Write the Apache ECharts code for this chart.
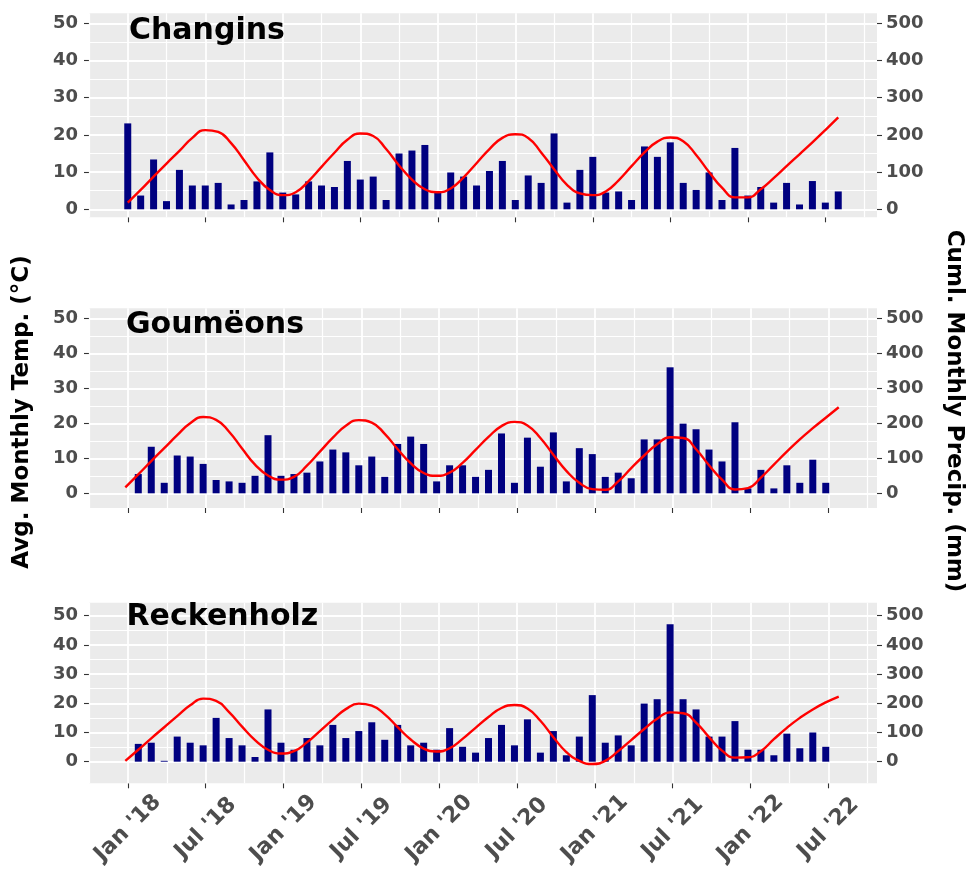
<!DOCTYPE html>
<html><head><meta charset="utf-8">
<script src="https://cdn.jsdelivr.net/npm/echarts@6/dist/echarts.min.js"></script>
<style>html,body{margin:0;padding:0;background:#fff}#c{width:966px;height:883px}</style>
</head><body><div id="c"></div>
<script>
// ---- data ----
const tickLabels = ["Jan '18","Jul '18","Jan '19","Jul '19","Jan '20","Jul '20","Jan '21","Jul '21","Jan '22","Jul '22"];
const tickMonths = [0,6,12,18,24,30,36,42,48,54];
const minorMonths = [-3,3,9,15,21,27,33,39,45,51,57];
const tempTicks = [0,10,20,30,40,50];
const tempMinorTicks = [5,15,25,35,45];
const precipTicks = [0,100,200,300,400,500];

const stationNames = ['Changins','Goumëons','Reckenholz'];

const changinsPrecip = [231,37,134,22,106,64,64,71,13,25,75,153,45,40,75,64,60,130,80,88,25,150,158,173,45,99,88,64,103,130,25,91,71,204,18,106,141,45,48,25,169,141,180,71,52,99,25,165,37,60,18,71,13,76,18,48];
const changinsTemp = [1.8,5.2,8.8,12.3,15.7,19.2,21.3,20.8,17.8,13.2,8.5,5.2,3.8,4.6,7.6,11.4,15.2,18.7,20.4,19.7,16.2,11.8,8,5.4,4.6,5.6,8.6,12.4,16.2,19.2,20.2,19.2,15.3,10.8,6.6,4.3,3.8,4.8,7.8,11.6,15.3,18.2,19.3,18.3,14.6,10,5.8,3.2,3.2,5.4,8.4,11.6,14.8,18,21.3,24.7];

const goumeonsPrecip = [55,133,30,108,105,84,38,34,30,50,166,50,55,59,91,125,117,80,105,47,141,162,141,34,80,80,47,67,171,30,159,76,174,34,129,112,47,59,43,154,154,360,199,183,125,91,203,14,67,14,80,30,96,30];
const goumeonsTemp = [1.7,5.4,9.2,12.9,16.6,20,21.8,21,17.6,12.8,8.2,5.1,3.9,4.7,7.9,11.9,15.9,19.3,20.9,20.2,17,12.6,8.6,5.8,5,5.9,8.7,12.4,16.1,19.2,20.4,19.4,15.8,11,6.4,3,1.2,1,3.4,7.2,10.8,14,16,15.8,12.6,8,3.9,1.1,1.5,4.5,8.2,11.9,15.4,18.6,21.6,24.6];

const reckenholzPrecip = [61,65,3,86,65,56,150,81,56,16,179,65,41,81,56,126,81,105,135,75,126,56,65,41,115,51,31,81,126,56,145,31,105,22,86,228,65,90,56,199,214,471,214,179,86,86,139,41,41,22,96,46,100,51];
const reckenholzTemp = [0.3,4.1,8,11.8,15.6,19.3,21.6,20.8,17,12,7.4,4.1,2.8,3.6,6.6,10.5,14.4,18,19.9,19.2,16.2,11.8,7.6,4.5,3.5,4.6,7.8,11.6,15.3,18.4,19.4,18.2,14,8.4,3.3,0.3,-0.8,0.3,3.6,7.4,11.2,14.7,16.9,16.6,13.4,8.4,3.8,1.4,1.5,3.6,7.7,11.6,15,17.9,20.3,22.3];

// first precipitation month (0 = Jan 2018)
const precipStartMonth = [0, 1, 1];

// ---- layout / style ----
const FONT = 'DejaVu Sans';
const panels = [
  {precip: changinsPrecip, temp: changinsTemp, shift: 0, top: 13.3, bottom: 217.3, yMin: -2.15, yMax: 52.7, xMin: -3, xMax: 58, tx: 129, ty: 31},
  {precip: goumeonsPrecip, temp: goumeonsTemp, shift: -0.2, top: 308.3, bottom: 508, yMin: -4.2, yMax: 52.86, xMin: -3, xMax: 57.75, tx: 126, ty: 325.5},
  {precip: reckenholzPrecip, temp: reckenholzTemp, shift: -0.2, top: 602.7, bottom: 783.3, yMin: -7.4, yMax: 54.45, xMin: -3, xMax: 57.75, tx: 126.5, ty: 617.5}
];

const grids = [], xAxes = [], yAxes = [], series = [], graphics = [];
const tickLine = {color: '#333333', width: 1.1};
const noLine = {show: false, onZero: false};
panels.forEach((p, g) => {
  grids.push({left: 89, right: 89, top: p.top, height: p.bottom - p.top, show: true, backgroundColor: '#EBEBEB', borderWidth: 0});
  xAxes.push({
    type: 'value', gridIndex: g, min: p.xMin, max: p.xMax, position: 'bottom',
    axisLine: noLine,
    axisTick: {show: true, customValues: tickMonths, length: 5, lineStyle: tickLine},
    axisLabel: {show: g === 2, customValues: tickMonths, formatter: v => tickLabels[tickMonths.indexOf(v)] || '',
      rotate: 45, align: 'center', verticalAlign: 'middle', margin: 45,
      fontFamily: FONT, fontWeight: 'bold', fontSize: 22, color: '#4D4D4D'},
    splitLine: {show: false}
  });
  yAxes.push({
    type: 'value', gridIndex: g, position: 'left', min: p.yMin, max: p.yMax,
    axisLine: noLine,
    axisTick: {show: true, customValues: tempTicks, length: 5, lineStyle: tickLine},
    axisLabel: {customValues: tempTicks, margin: 11, fontFamily: FONT, fontWeight: 'bold', fontSize: 18, color: '#4D4D4D'},
    splitLine: {show: false}
  });
  yAxes.push({
    type: 'value', gridIndex: g, position: 'right', min: p.yMin * 10, max: p.yMax * 10,
    axisLine: noLine,
    axisTick: {show: true, customValues: precipTicks, length: 5, lineStyle: tickLine},
    axisLabel: {customValues: precipTicks, margin: 9, fontFamily: FONT, fontWeight: 'bold', fontSize: 18, color: '#4D4D4D'},
    splitLine: {show: false}
  });
  // panel grid lines (white), drawn through the axes' scales
  const gl = [];
  minorMonths.forEach(v => gl.push({xAxis: v, lineStyle: {width: 1.2}}));
  tickMonths.forEach(v => gl.push({xAxis: v, lineStyle: {width: 1.8}}));
  tempMinorTicks.forEach(v => gl.push({yAxis: v, lineStyle: {width: 1.2}}));
  tempTicks.forEach(v => gl.push({yAxis: v, lineStyle: {width: 1.8}}));
  series.push({
    type: 'line', xAxisIndex: g, yAxisIndex: 2 * g, data: [], z: 1, silent: true,
    markLine: {silent: true, z: 1, symbol: ['none', 'none'], label: {show: false}, animation: false,
      lineStyle: {color: '#FFFFFF', type: 'solid'}, emphasis: {disabled: true}, data: gl}
  });
  series.push({
    type: 'bar', xAxisIndex: g, yAxisIndex: 2 * g + 1, barWidth: 7,
    data: p.precip.map((v, i) => [precipStartMonth[g] + i + p.shift, v]),
    itemStyle: {color: '#000080'}, z: 3
  });
  series.push({
    type: 'line', xAxisIndex: g, yAxisIndex: 2 * g, smooth: 0.5, showSymbol: false,
    data: p.temp.map((v, i) => [i + p.shift, v]),
    lineStyle: {color: '#FF0000', width: 2.4}, z: 4
  });
  graphics.push({type: 'text', x: p.tx, y: p.ty, z: 10,
    style: {text: stationNames[g], font: 'bold 30px "DejaVu Sans"', fill: '#000000', align: 'left', verticalAlign: 'middle'}});
});
graphics.push({type: 'text', x: 22, y: 412, rotation: Math.PI / 2,
  style: {text: 'Avg. Monthly Temp. (°C)', font: 'bold 23px "DejaVu Sans"', fill: '#000000', align: 'center', verticalAlign: 'middle'}});
graphics.push({type: 'text', x: 954, y: 411, rotation: -Math.PI / 2,
  style: {text: 'Cuml. Monthly Precip. (mm)', font: 'bold 23px "DejaVu Sans"', fill: '#000000', align: 'center', verticalAlign: 'middle'}});

const chart = echarts.init(document.getElementById('c'), null, {renderer: 'canvas'});
chart.setOption({
  animation: false,
  backgroundColor: '#FFFFFF',
  grid: grids, xAxis: xAxes, yAxis: yAxes, series: series, graphic: graphics
});
</script>
</body></html>
